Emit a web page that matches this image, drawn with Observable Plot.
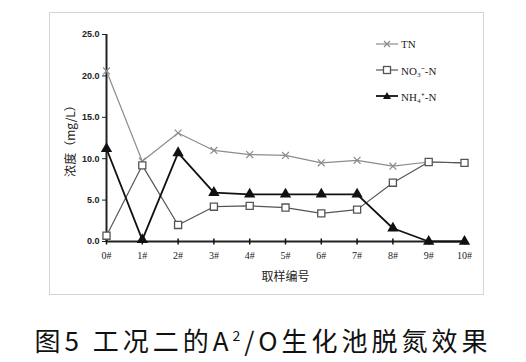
<!DOCTYPE html>
<html>
<head>
<meta charset="utf-8">
<script src="https://cdn.jsdelivr.net/npm/d3@7"></script>
<script src="https://cdn.jsdelivr.net/npm/@observablehq/plot@0.6"></script>
<style>
  html, body { margin: 0; padding: 0; background: #fff; }
  #wrap { position: relative; width: 526px; height: 362px; overflow: hidden; background: #fff; }
  #chart { position: absolute; left: 49px; top: 12px; width: 433px; height: 281px; border: 1px solid #d4d4d4; }
  #legend { position: absolute; left: 376px; top: 31px; font-family: "Liberation Serif", serif; font-size: 11px; color: #222; }
  #legend .row { display: flex; align-items: center; height: 26px; }
  #legend svg { margin-right: 3px; }
  #caption { position: absolute; left: 0; top: 321px; width: 526px; text-align: center; white-space: nowrap;
    font-family: "Noto Sans CJK SC", sans-serif; font-size: 26px; color: #111; letter-spacing: 4px; }
</style>
</head>
<body>
<div id="wrap">
  <div id="chart"></div>
  <div id="legend"></div>
  <div id="caption">图5 工况二的A<sup style="font-size:14px">2</sup>/O生化池脱氮效果</div>
</div>
<script>
const samples = ["0#","1#","2#","3#","4#","5#","6#","7#","8#","9#","10#"];
const tn  = [20.6, 9.7, 13.1, 11.0, 10.5, 10.4, 9.5, 9.8, 9.1, 9.6, 9.5];
const no3 = [0.7, 9.2, 2.0, 4.2, 4.3, 4.1, 3.4, 3.85, 7.1, 9.6, 9.5];
const nh4 = [11.2, 0.2, 10.7, 5.9, 5.7, 5.7, 5.7, 5.7, 1.6, 0.0, 0.0];
const yTicks = [0, 5, 10, 15, 20, 25];
const seriesNames = ["TN", "NO₃⁻-N", "NH₄⁺-N"];
const seriesColors = ["#8c8c8c", "#555555", "#111111"];

const idx = samples.map((_, i) => i);
const tickMark = { draw(ctx, size) { ctx.moveTo(0, -3); ctx.lineTo(0, 3); } };

const chart = Plot.plot({
  width: 433, height: 281,
  marginLeft: 56, marginTop: 21, marginBottom: 53, marginRight: 19,
  x: { domain: [0, 10] },
  y: { domain: [0, 25] },
  style: { fontFamily: "Liberation Sans, sans-serif", background: "#fff", color: "#222" },
  marks: [
    Plot.axisY({ ticks: yTicks, tickFormat: d => d.toFixed(1), tickSize: 4, tickPadding: 3,
      fontSize: 9, fontWeight: "bold", label: null }),
    Plot.axisY({ ticks: [], tickSize: 0, label: "浓度（mg/L）", labelAnchor: "center", labelArrow: "none",
      labelOffset: 40, fontSize: 12, fontFamily: "Noto Sans CJK SC, sans-serif" }),
    Plot.axisX({ ticks: idx, tickFormat: i => samples[i], tickSize: 0, tickPadding: 10,
      fontSize: 10, fontFamily: "Liberation Serif, serif", label: null }),
    Plot.axisX({ ticks: [], tickSize: 0, label: "取样编号", labelAnchor: "center",
      labelArrow: "none", labelOffset: 39, fontSize: 12, fontFamily: "Noto Sans CJK SC, sans-serif" }),
    Plot.ruleX([0], { strokeWidth: 2 }),
    Plot.ruleY([0], { strokeWidth: 1.8 }),
    Plot.dot(idx, { x: d => d, y: 0, symbol: tickMark, stroke: "#111", strokeWidth: 1.5, r: 3 }),
    Plot.line(idx, { x: d => d, y: i => tn[i], stroke: seriesColors[0], strokeWidth: 1.2 }),
    Plot.line(idx, { x: d => d, y: i => no3[i], stroke: seriesColors[1], strokeWidth: 1.2 }),
    Plot.line(idx, { x: d => d, y: i => nh4[i], stroke: seriesColors[2], strokeWidth: 1.8 }),
    Plot.dot(idx, { x: d => d, y: i => tn[i], symbol: "times", stroke: seriesColors[0], strokeWidth: 1.2, r: 3.2 }),
    Plot.dot(idx, { x: d => d, y: i => no3[i], symbol: "square", stroke: seriesColors[1], fill: "#fff", strokeWidth: 1.3, r: 4 }),
    Plot.dot(idx, { x: d => d, y: i => nh4[i], symbol: "triangle", fill: seriesColors[2], stroke: "none", r: 4.2 })
  ]
});
document.getElementById("chart").appendChild(chart);

// legend
const legend = document.getElementById("legend");
const symbols = [
  '<path d="M-3,-3L3,3M-3,3L3,-3" stroke="#8c8c8c" stroke-width="1.2" fill="none"/>',
  '<rect x="-3.5" y="-3.5" width="7" height="7" stroke="#555" stroke-width="1.3" fill="#fff"/>',
  '<path d="M0,-4L4,3L-4,3Z" fill="#111"/>'
];
seriesNames.forEach((name, i) => {
  const row = document.createElement("div");
  row.className = "row";
  row.innerHTML = `<svg width="22" height="10" viewBox="-11 -5 22 10"><line x1="-11" x2="11" y1="0" y2="0" stroke="${seriesColors[i]}" stroke-width="${i === 2 ? 1.8 : 1.2}"/>${symbols[i]}</svg><span>${name}</span>`;
  legend.appendChild(row);
});
</script>
</body>
</html>
